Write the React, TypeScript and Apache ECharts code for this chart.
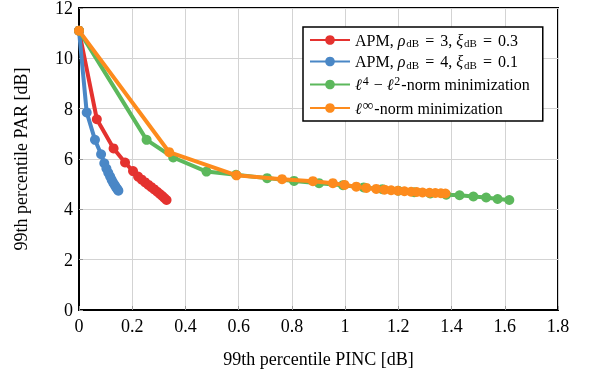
import React, { useEffect, useRef } from "react";
import * as echarts from "echarts";

const seriesNames = [
  "APM, rho=3, xi=0.3",
  "APM, rho=4, xi=0.1",
  "l4-l2-norm minimization",
  "linf-norm minimization",
];

const redX = [0, 0.067, 0.13, 0.173, 0.203, 0.222, 0.236, 0.249, 0.261, 0.272, 0.283, 0.294, 0.304, 0.313, 0.321, 0.329];
const redY = [11.1, 7.58, 6.42, 5.86, 5.52, 5.3, 5.18, 5.07, 4.97, 4.88, 4.79, 4.7, 4.61, 4.53, 4.45, 4.37];

const blueX = [0, 0.029, 0.06, 0.083, 0.095, 0.103, 0.11, 0.117, 0.123, 0.129, 0.135, 0.14, 0.145, 0.148];
const blueY = [11.1, 7.85, 6.76, 6.19, 5.83, 5.62, 5.45, 5.3, 5.17, 5.05, 4.95, 4.86, 4.79, 4.74];

const greenX = [0, 0.254, 0.354, 0.479, 0.59, 0.707, 0.808, 0.902, 0.992, 1.07, 1.14, 1.2, 1.26, 1.32, 1.38, 1.43, 1.482, 1.53, 1.573, 1.617];
const greenY = [11.1, 6.76, 6.06, 5.5, 5.37, 5.24, 5.13, 5.04, 4.96, 4.87, 4.8, 4.74, 4.68, 4.63, 4.58, 4.56, 4.51, 4.47, 4.41, 4.37];

const orangeX = [0, 0.339, 0.592, 0.763, 0.879, 0.954, 0.998, 1.042, 1.08, 1.117, 1.148, 1.173, 1.198, 1.223, 1.248, 1.269, 1.291, 1.317, 1.339, 1.36, 1.377];
const orangeY = [11.1, 6.27, 5.35, 5.2, 5.12, 5.04, 4.97, 4.9, 4.85, 4.81, 4.78, 4.76, 4.74, 4.72, 4.7, 4.69, 4.67, 4.66, 4.65, 4.64, 4.63];

const xAxisTitle = "99th percentile PINC [dB]";
const yAxisTitle = "99th percentile PAR [dB]";

const colors = ["#e4322f", "#4a87c6", "#5cb85c", "#fd8b1d"];

const legendRich: Record<string, string> = {
  [seriesNames[0]]: "{t|APM, }{i|ρ}{s|dB}{e|=}{t|3, }{i|ξ}{s|dB}{e|=}{t|0.3}",
  [seriesNames[1]]: "{t|APM, }{i|ρ}{s|dB}{e|=}{t|4, }{i|ξ}{s|dB}{e|=}{t|0.1}",
  [seriesNames[2]]: "{i|ℓ}{p|4}{m|−}{i|ℓ}{p|2}{t|-norm minimization}",
  [seriesNames[3]]: "{i|ℓ}{q|∞}{t|-norm minimization}",
};

const FONT = "Liberation Serif";

function zip(xs: number[], ys: number[]) {
  return xs.map((x, i) => [x, ys[i]]);
}

export default function App() {
  const ref = useRef<HTMLDivElement>(null);
  useEffect(() => {
    if (!ref.current) return;
    const chart = echarts.init(ref.current, null, { renderer: "svg" });
    const datas = [zip(redX, redY), zip(blueX, blueY), zip(greenX, greenY), zip(orangeX, orangeY)];
    chart.setOption({
      animation: false,
      grid: {
        left: 79,
        right: 31,
        top: 8,
        bottom: 60,
        outerBoundsMode: "none",
        containLabel: false,
        show: true,
        borderColor: "#000",
        borderWidth: 2,
        backgroundColor: "transparent",
      },
      legend: {
        left: 303,
        top: 27,
        orient: "vertical",
        backgroundColor: "#fff",
        borderColor: "#000",
        borderWidth: 1.5,
        borderRadius: 0,
        padding: [5, 13, 5, 6],
        itemGap: 5,
        itemWidth: 40,
        itemHeight: 12,
        data: seriesNames,
        formatter: (name: string) => legendRich[name],
        textStyle: {
          fontFamily: FONT,
          fontSize: 16,
          color: "#000",
          rich: {
            t: { fontSize: 16, fontFamily: FONT, color: "#000" },
            e: { fontSize: 16, fontFamily: FONT, color: "#000", padding: [0, 6, 0, 6] },
            m: { fontSize: 16, fontFamily: FONT, color: "#000", padding: [0, 4, 0, 4] },
            i: { fontSize: 16, fontFamily: FONT, fontStyle: "italic", color: "#000", padding: [0, 1, 0, 0] },
            s: { fontSize: 11, fontFamily: FONT, color: "#000", padding: [6, 0, 0, 0] },
            p: { fontSize: 12, fontFamily: FONT, color: "#000", padding: [0, 1, 7, 0] },
            q: { fontSize: 15, fontFamily: FONT, color: "#000", padding: [0, 1, 6, 0] },
          },
        },
      },
      xAxis: {
        type: "value",
        min: 0,
        max: 1.8,
        interval: 0.2,
        name: xAxisTitle,
        nameLocation: "middle",
        nameGap: 40,
        nameTextStyle: { fontFamily: FONT, fontSize: 18, color: "#000" },
        axisLine: { show: true, lineStyle: { color: "#000", width: 2 } },
        axisTick: { show: true, inside: true, length: 4, lineStyle: { color: "#999" } },
        axisLabel: { fontFamily: FONT, fontSize: 18, color: "#000", margin: 7 },
        splitLine: { show: true, lineStyle: { color: "#d3d3d3", width: 1 } },
      },
      yAxis: {
        type: "value",
        min: 0,
        max: 12,
        interval: 2,
        name: yAxisTitle,
        nameLocation: "middle",
        nameGap: 49,
        nameTextStyle: { fontFamily: FONT, fontSize: 18, color: "#000" },
        axisLine: { show: true, lineStyle: { color: "#000", width: 2 } },
        axisTick: { show: true, inside: true, length: 4, lineStyle: { color: "#999" } },
        axisLabel: { fontFamily: FONT, fontSize: 18, color: "#000", margin: 6 },
        splitLine: { show: true, lineStyle: { color: "#d3d3d3", width: 1 } },
      },
      series: seriesNames.map((name, i) => ({
        name,
        type: "line",
        data: datas[i],
        color: colors[i],
        symbol: "circle",
        symbolSize: 10,
        showSymbol: true,
        lineStyle: { width: 4, color: colors[i] },
        itemStyle: { color: colors[i] },
        z: 2 + i,
      })),
    });
    return () => chart.dispose();
  }, []);
  return (
    <div
      ref={ref}
      style={{ position: "fixed", left: 0, top: 0, width: 589, height: 370 }}
    />
  );
}
